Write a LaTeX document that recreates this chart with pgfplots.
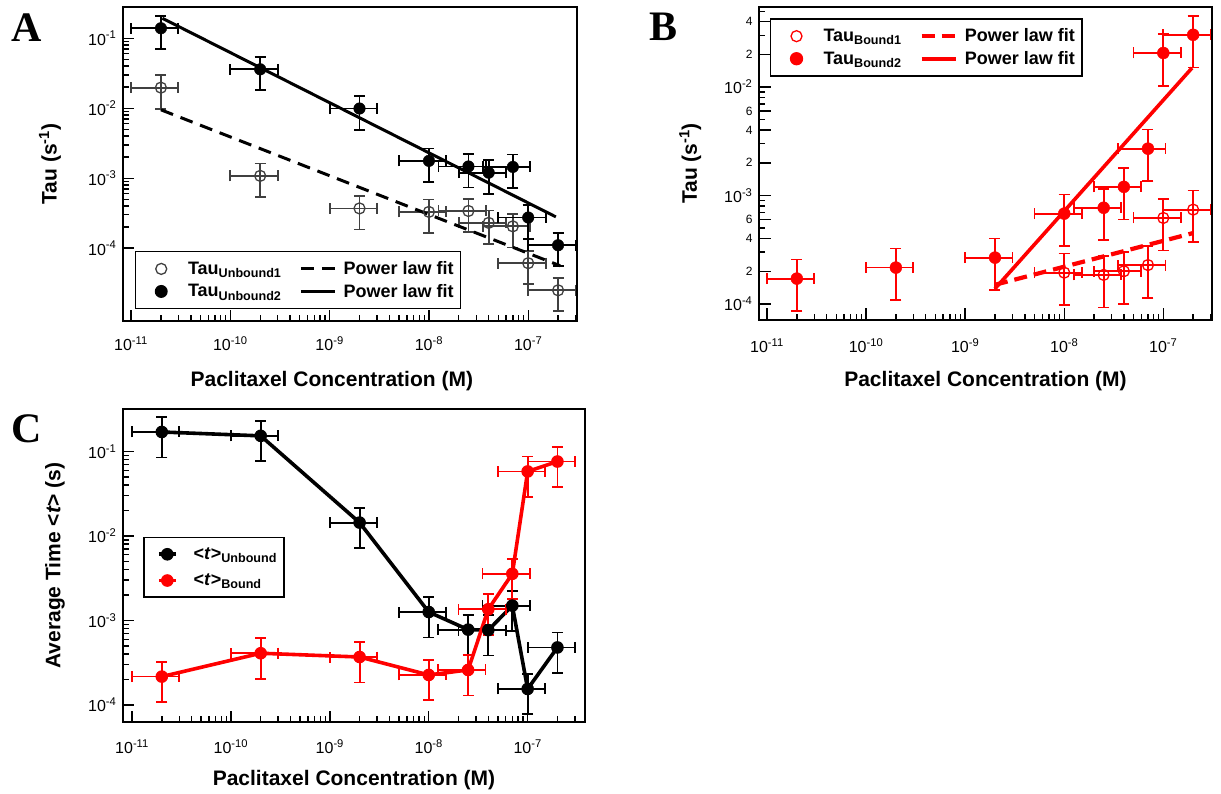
\documentclass[border=0pt]{standalone}
\usepackage{pgfplots}
\pgfplotsset{compat=1.18}
\usepackage{fontspec}
\setmainfont{Liberation Sans}
\newfontfamily\letterfont{Liberation Serif}
\definecolor{opengray}{gray}{0.25}
\definecolor{pred}{RGB}{255,0,0}
\begin{document}
\begin{tikzpicture}
\useasboundingbox (0pt,0pt) rectangle (1221pt,794pt);

% ---------------- Panel A ----------------
\begin{axis}[
  scale only axis, xmode=log, ymode=log,
  tick pos=left, tick align=inside,
  axis line style={line width=1.7pt},
  tick style={line width=1.4pt, black},
  major tick length=11pt, minor tick length=6pt,
  xtick={1e-11,1e-10,1e-9,1e-8,1e-7},
  xticklabels={10\textsuperscript{-11},10\textsuperscript{-10},10\textsuperscript{-9},10\textsuperscript{-8},10\textsuperscript{-7}},
  minor xtick={2e-11,3e-11,4e-11,5e-11,6e-11,7e-11,8e-11,9e-11,2e-10,3e-10,4e-10,5e-10,6e-10,7e-10,8e-10,9e-10,2e-9,3e-9,4e-9,5e-9,6e-9,7e-9,8e-9,9e-9,2e-8,3e-8,4e-8,5e-8,6e-8,7e-8,8e-8,9e-8,2e-7,3e-7},
  ticklabel style={font=\fontsize{16}{19}\selectfont},
  xticklabel style={yshift=-12pt},
  yticklabel style={xshift=-3pt},
  label style={font=\bfseries\fontsize{21}{25}\selectfont},
  xlabel={Paclitaxel Concentration (M)},
  at={(123pt,473pt)}, anchor=south west, width=454pt, height=314pt,
  xmin=8.3e-12, xmax=3.1e-7, ymin=9.1e-6, ymax=0.28,
  ytick={1e-4,1e-3,1e-2,1e-1},
  yticklabels={10\textsuperscript{-4},10\textsuperscript{-3},10\textsuperscript{-2},10\textsuperscript{-1}},
  ylabel={Tau (s\textsuperscript{-1})},
  xlabel style={at={(axis description cs:0.46,-0.191)}, anchor=center},
  ylabel style={at={(axis description cs:-0.161,0.5)}, anchor=center},
  legend columns=2, legend cell align=left,
  legend style={at={(axis description cs:0.026,0.037)}, anchor=south west,
    draw=black, line width=1.3pt, fill=white, inner xsep=20pt, inner ysep=8pt, row sep=4pt,
    font=\bfseries\fontsize{18}{21}\selectfont,
    /tikz/every odd column/.append style={column sep=19pt},
    /tikz/every even column/.append style={column sep=16pt}},
]
\addplot[opengray, only marks, mark=o, mark size=5.5pt, mark options={line width=1.3pt},
  error bars/.cd, x dir=both, x explicit relative, y dir=both, y explicit relative,
  error bar style={line width=1.8pt, opengray}, error mark options={rotate=90, mark size=5.5pt, line width=1.8pt, opengray}]
 coordinates {(2e-11,0.0197) +- (0.5,0.5) (2e-10,1.08e-3) +- (0.5,0.5) (2e-9,3.7e-4) +- (0.5,0.5)
 (1e-8,3.3e-4) +- (0.5,0.5) (2.5e-8,3.4e-4) +- (0.5,0.5) (4e-8,2.3e-4) +- (0.5,0.5)
 (7e-8,2.05e-4) +- (0.5,0.5) (1e-7,6.1e-5) +- (0.5,0.5) (2e-7,2.5e-5) +- (0.5,0.5)};
\addlegendentry{Tau\textsubscript{Unbound1}}
\addplot[black, line width=3pt, dash pattern=on 13pt off 8pt, legend image post style={xscale=2}]
 coordinates {(2e-11,0.0095) (2.1e-7,5.6e-5)};
\addlegendentry{\hspace*{-14pt}Power law fit\hspace*{-15pt}}
\addplot[black, only marks, mark=*, mark size=5.8pt,
  error bars/.cd, x dir=both, x explicit relative, y dir=both, y explicit relative,
  error bar style={line width=1.8pt, black}, error mark options={rotate=90, mark size=5.5pt, line width=1.8pt, black}]
 coordinates {(2e-11,0.139) +- (0.5,0.5) (2e-10,0.036) +- (0.5,0.5) (2e-9,0.0099) +- (0.5,0.5)
 (1e-8,1.77e-3) +- (0.5,0.5) (2.5e-8,1.47e-3) +- (0.5,0.5) (4e-8,1.2e-3) +- (0.5,0.5)
 (7e-8,1.45e-3) +- (0.5,0.5) (1e-7,2.74e-4) +- (0.5,0.5) (2e-7,1.1e-4) +- (0.5,0.5)};
\addlegendentry{Tau\textsubscript{Unbound2}}
\addplot[black, line width=3pt, legend image post style={xscale=2}]
 coordinates {(2.07e-11,0.193) (1.9e-7,2.8e-4)};
\addlegendentry{\hspace*{-14pt}Power law fit\hspace*{-15pt}}
\end{axis}

% ---------------- Panel B ----------------
\begin{axis}[
  scale only axis, xmode=log, ymode=log,
  tick pos=left, tick align=inside,
  axis line style={line width=1.7pt},
  tick style={line width=1.4pt, black},
  major tick length=12pt, minor tick length=6pt,
  xtick={1e-11,1e-10,1e-9,1e-8,1e-7},
  xticklabels={10\textsuperscript{-11},10\textsuperscript{-10},10\textsuperscript{-9},10\textsuperscript{-8},10\textsuperscript{-7}},
  minor xtick={2e-11,3e-11,4e-11,5e-11,6e-11,7e-11,8e-11,9e-11,2e-10,3e-10,4e-10,5e-10,6e-10,7e-10,8e-10,9e-10,2e-9,3e-9,4e-9,5e-9,6e-9,7e-9,8e-9,9e-9,2e-8,3e-8,4e-8,5e-8,6e-8,7e-8,8e-8,9e-8,2e-7,3e-7},
  ticklabel style={font=\fontsize{16}{19}\selectfont},
  xticklabel style={yshift=-15pt},
  yticklabel style={xshift=-3pt},
  label style={font=\bfseries\fontsize{21}{25}\selectfont},
  xlabel={Paclitaxel Concentration (M)},
  at={(759pt,474pt)}, anchor=south west, width=453pt, height=313pt,
  xmin=8.3e-12, xmax=3.1e-7, ymin=7.1e-5, ymax=0.0547,
  ytick={2e-4,4e-4,6e-4,2e-3,4e-3,6e-3,2e-2,4e-2},
  yticklabels={2,4,6,2,4,6,2,4},
  yticklabel style={font=\fontsize{12}{14}\selectfont},
  minor ytick={3e-4,5e-4,7e-4,8e-4,9e-4,3e-3,5e-3,7e-3,8e-3,9e-3,3e-2,5e-2},
  extra y ticks={1e-4,1e-3,1e-2},
  extra y tick labels={10\textsuperscript{-4},10\textsuperscript{-3},10\textsuperscript{-2}},
  extra y tick style={yticklabel style={font=\fontsize{16}{19}\selectfont}},
  ylabel={Tau (s\textsuperscript{-1})},
  xlabel style={at={(axis description cs:0.5,-0.195)}, anchor=center},
  ylabel style={at={(axis description cs:-0.152,0.5)}, anchor=center},
  legend columns=2, legend cell align=left,
  legend style={at={(axis description cs:0.024,0.964)}, anchor=north west,
    draw=black, line width=1.3pt, fill=white, inner xsep=20pt, inner ysep=8pt, row sep=4pt,
    font=\bfseries\fontsize{18}{21}\selectfont,
    /tikz/every odd column/.append style={column sep=19pt},
    /tikz/every even column/.append style={column sep=16pt}},
]
\addplot[pred, only marks, mark=o, mark size=5.5pt, mark options={line width=1.3pt},
  error bars/.cd, x dir=both, x explicit relative, y dir=both, y explicit relative,
  error bar style={line width=1.8pt, pred}, error mark options={rotate=90, mark size=5.5pt, line width=1.8pt, pred}]
 coordinates {(1e-8,1.94e-4) +- (0.5,0.5) (2.5e-8,1.85e-4) +- (0.5,0.5) (4e-8,2.0e-4) +- (0.5,0.5)
 (7e-8,2.28e-4) +- (0.5,0.5) (1e-7,6.2e-4) +- (0.5,0.5) (2e-7,7.4e-4) +- (0.5,0.5)};
\addlegendentry{Tau\textsubscript{Bound1}}
\addplot[pred, line width=4.2pt, dash pattern=on 13pt off 7pt, legend image post style={xscale=2}]
 coordinates {(2e-9,1.5e-4) (2e-7,4.5e-4)};
\addlegendentry{\hspace*{-14pt}Power law fit\hspace*{-15pt}}
\addplot[pred, only marks, mark=*, mark size=6pt,
  error bars/.cd, x dir=both, x explicit relative, y dir=both, y explicit relative,
  error bar style={line width=1.8pt, pred}, error mark options={rotate=90, mark size=5.5pt, line width=1.8pt, pred}]
 coordinates {(2e-11,1.71e-4) +- (0.5,0.5) (2e-10,2.16e-4) +- (0.5,0.5) (2e-9,2.67e-4) +- (0.5,0.5)
 (1e-8,6.8e-4) +- (0.5,0.5) (2.5e-8,7.7e-4) +- (0.5,0.5) (4e-8,1.2e-3) +- (0.5,0.5)
 (7e-8,2.7e-3) +- (0.5,0.5) (1e-7,0.0206) +- (0.5,0.5) (2e-7,0.0303) +- (0.5,0.5)};
\addlegendentry{Tau\textsubscript{Bound2}}
\addplot[pred, line width=3.6pt, legend image post style={xscale=2}]
 coordinates {(2e-9,1.38e-4) (1.95e-7,0.015)};
\addlegendentry{\hspace*{-14pt}Power law fit\hspace*{-15pt}}
\end{axis}

% ---------------- Panel C ----------------
\begin{axis}[
  scale only axis, xmode=log, ymode=log,
  tick pos=left, tick align=inside,
  axis line style={line width=1.7pt},
  tick style={line width=1.4pt, black},
  major tick length=11pt, minor tick length=6pt,
  xtick={1e-11,1e-10,1e-9,1e-8,1e-7},
  xticklabels={10\textsuperscript{-11},10\textsuperscript{-10},10\textsuperscript{-9},10\textsuperscript{-8},10\textsuperscript{-7}},
  minor xtick={2e-11,3e-11,4e-11,5e-11,6e-11,7e-11,8e-11,9e-11,2e-10,3e-10,4e-10,5e-10,6e-10,7e-10,8e-10,9e-10,2e-9,3e-9,4e-9,5e-9,6e-9,7e-9,8e-9,9e-9,2e-8,3e-8,4e-8,5e-8,6e-8,7e-8,8e-8,9e-8,2e-7,3e-7},
  ticklabel style={font=\fontsize{16}{19}\selectfont},
  xticklabel style={yshift=-14pt},
  yticklabel style={xshift=-3pt},
  label style={font=\bfseries\fontsize{21}{25}\selectfont},
  xlabel={Paclitaxel Concentration (M)},
  at={(123pt,72pt)}, anchor=south west, width=462pt, height=313pt,
  xmin=8.1e-12, xmax=3.8e-7, ymin=6.3e-5, ymax=0.318,
  ytick={1e-4,1e-3,1e-2,1e-1},
  yticklabels={10\textsuperscript{-4},10\textsuperscript{-3},10\textsuperscript{-2},10\textsuperscript{-1}},
  ylabel={Average Time <\textit{t}> (s)},
  xlabel style={at={(axis description cs:0.5,-0.185)}, anchor=center},
  ylabel style={at={(axis description cs:-0.147,0.5)}, anchor=center},
  legend cell align=left,
  legend style={at={(axis description cs:0.044,0.591)}, anchor=north west,
    draw=black, line width=1.3pt, fill=white, inner xsep=13pt, inner ysep=8pt, row sep=9pt,
    font=\bfseries\fontsize{18}{21}\selectfont,
    /tikz/every odd column/.append style={column sep=14pt}},
]
\addplot[black, line width=3.6pt, mark=*, mark size=5.8pt, mark options={solid, line width=1pt},
  error bars/.cd, x dir=both, x explicit relative, y dir=both, y explicit relative,
  error bar style={line width=1.8pt, black}, error mark options={rotate=90, mark size=5.5pt, line width=1.8pt, black}]
 coordinates {(2e-11,0.17) +- (0.5,0.5) (2e-10,0.153) +- (0.5,0.5) (2e-9,0.0144) +- (0.5,0.5)
 (1e-8,1.26e-3) +- (0.5,0.5) (2.5e-8,7.8e-4) +- (0.5,0.5) (4e-8,7.7e-4) +- (0.5,0.5)
 (7e-8,1.5e-3) +- (0.5,0.5) (1e-7,1.55e-4) +- (0.5,0.5) (2e-7,4.8e-4) +- (0.5,0.5)};
\addlegendentry{<\textit{t}>\textsubscript{Unbound}\hspace*{-8pt}}
\addplot[pred, line width=3.6pt, mark=*, mark size=5.8pt, mark options={solid, line width=1pt},
  error bars/.cd, x dir=both, x explicit relative, y dir=both, y explicit relative,
  error bar style={line width=1.8pt, pred}, error mark options={rotate=90, mark size=5.5pt, line width=1.8pt, pred}]
 coordinates {(2e-11,2.17e-4) +- (0.5,0.5) (2e-10,4.1e-4) +- (0.5,0.5) (2e-9,3.7e-4) +- (0.5,0.5)
 (1e-8,2.27e-4) +- (0.5,0.5) (2.5e-8,2.6e-4) +- (0.5,0.5) (4e-8,1.36e-3) +- (0.5,0.5)
 (7e-8,3.57e-3) +- (0.5,0.5) (1e-7,0.058) +- (0.5,0.5) (2e-7,0.076) +- (0.5,0.5)};
\addlegendentry{<\textit{t}>\textsubscript{Bound}}
\end{axis}

\node[font=\letterfont\bfseries\fontsize{42}{46}\selectfont] at (27pt,766pt) {A};
\node[font=\letterfont\bfseries\fontsize{42}{46}\selectfont] at (663pt,767pt) {B};
\node[font=\letterfont\bfseries\fontsize{42}{46}\selectfont] at (27pt,365pt) {C};
\end{tikzpicture}
\end{document}
